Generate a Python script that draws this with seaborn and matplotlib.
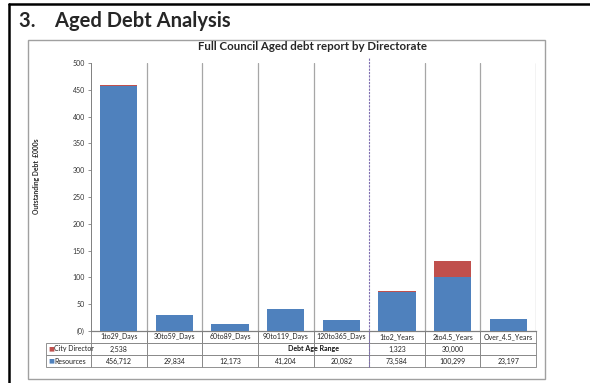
import numpy as np
import pandas as pd
import matplotlib
matplotlib.use("Agg")
import matplotlib.pyplot as plt
import seaborn as sns
from matplotlib.patches import Rectangle
from matplotlib.lines import Line2D

# ── data (values in £) ─────────────────────────────────────────
categories = ["1to29_Days", "30to59_Days", "60to89_Days", "90to119_Days",
              "120to365_Days", "1to2_Years", "2to4.5_Years", "Over_4.5_Years"]
city_director = [2538, 0, 0, 0, 0, 1323, 30000, 0]
resources = [456712, 29834, 12173, 41204, 20082, 73584, 100299, 23197]
series_names = ["City Director", "Resources"]
yticks = [0, 50, 100, 150, 200, 250, 300, 350, 400, 450, 500]

BLUE = "#4F81BD"
RED = "#C0504D"
GRID = "#A6A6A6"

df = pd.DataFrame({
    "cat": categories,
    "res": np.array(resources) / 1000.0,
    "total": (np.array(resources) + np.array(city_director)) / 1000.0,
})

sns.set_theme(style="white")
plt.rcParams["font.family"] = ["Lato", "DejaVu Sans"]

fig = plt.figure(figsize=(5.9, 3.83), dpi=100)
ax = fig.add_axes([91 / 590, 1 - 331 / 383, 445 / 590, 268 / 383])

# stacked bars: total (red) underneath, resources (blue) on top
sns.barplot(data=df, x="cat", y="total", color=RED, width=0.67,
            saturation=1, linewidth=0, ax=ax, zorder=3)
sns.barplot(data=df, x="cat", y="res", color=BLUE, width=0.67,
            saturation=1, linewidth=0, ax=ax, zorder=4)

ax.set_xlim(-0.5, len(categories) - 0.5)
ax.set_ylim(0, 500)
ax.set_yticks(yticks)
ax.set_yticklabels(["(0)"] + [str(t) for t in yticks[1:]], fontsize=5, color="#333333")
ax.tick_params(axis="y", length=2.5, width=0.6, color="#808080", pad=2, left=True)
ax.set_xticks([])
ax.set_xlabel("")
ax.set_ylabel("")

for s in ["top", "right"]:
    ax.spines[s].set_visible(False)
ax.spines["left"].set_color("#808080")
ax.spines["left"].set_linewidth(0.7)
ax.spines["bottom"].set_color("#808080")
ax.spines["bottom"].set_linewidth(0.9)

# category separators
for k in range(len(categories)):
    b = k + 0.5
    if k == 4:
        ax.axvline(b, ymin=-0.134, ymax=1.02, color="#7F6FB0", lw=0.8,
                   ls=(0, (2, 1)), clip_on=False, zorder=5)
    else:
        ax.axvline(b, ymin=0, ymax=1.0, color=GRID, lw=0.9, zorder=1)

# data table under the axis
def fmt(v):
    return f"{v:,}" if v else ""

cell_text = [[""] + categories,
             [""] + [fmt(v) for v in city_director],
             [""] + [fmt(v) for v in resources]]
lab_w = 45 / 445
tot_w = lab_w + 1.0
col_w = [lab_w / tot_w] + [(1.0 / len(categories)) / tot_w] * len(categories)
tbl = ax.table(cellText=cell_text, colWidths=col_w, cellLoc="center",
               bbox=[-lab_w, -36 / 268, tot_w, 36 / 268])
tbl.auto_set_font_size(False)
tbl.set_fontsize(5)
for (r, c), cell in tbl.get_celld().items():
    cell.set_edgecolor("#808080")
    cell.set_linewidth(0.6)
    cell.get_text().set_color("#222222")
    if r == 0 and c == 0:
        cell.visible_edges = ""
    elif r == 0:
        cell.visible_edges = "LRB"

# row labels with legend keys
for i, (name, col) in enumerate(zip(series_names, [RED, BLUE])):
    y = -(12 + 12 * i + 6) / 268
    ax.text(-lab_w + 0.005, y, "\u25A0", color=col, fontsize=4.5, va="center",
            ha="left", transform=ax.transAxes, family=["DejaVu Sans"])
    ax.text(-lab_w + 0.019, y, name, color="#222222", fontsize=5, va="center",
            ha="left", transform=ax.transAxes)

ax.text(0.5, -18 / 268, "Debt Age Range", transform=ax.transAxes,
        ha="center", va="center", fontsize=5, fontweight="bold", color="#111111")

# titles and y label
fig.text(312 / 590, 1 - 46 / 383, "Full Council Aged debt report by Directorate",
         ha="center", va="center", fontsize=8.3, fontweight="bold")
fig.text(37 / 590, 1 - 176 / 383, "Outstanding Debt  £000s", rotation=90,
         ha="center", va="center", fontsize=4.9, fontweight="bold")
fig.text(19 / 590, 1 - 21 / 383, "3.    Aged Debt Analysis", ha="left",
         va="center", fontsize=14.5, fontweight="bold")

# chart frame and page frame
fig.patches.append(Rectangle((28 / 590, 1 - 379 / 383), 517 / 590, 339 / 383,
                             transform=fig.transFigure, fill=False,
                             edgecolor="#A0A0A0", lw=1.0))
fig.lines.append(Line2D([9 / 590, 1], [1 - 4 / 383] * 2, transform=fig.transFigure,
                        color="black", lw=1.8))
fig.lines.append(Line2D([9 / 590] * 2, [0, 1 - 4 / 383], transform=fig.transFigure,
                        color="black", lw=1.8))

fig.savefig("out.png", dpi=100)
